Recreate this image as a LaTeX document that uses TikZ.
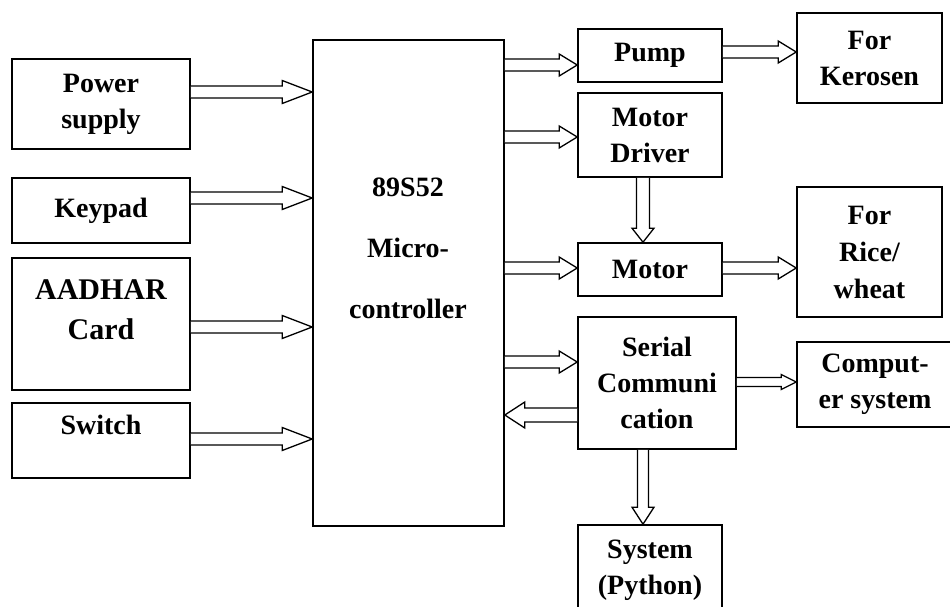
\documentclass[tikz,border=0pt]{standalone}
\usepackage{fontspec}
\setmainfont{Liberation Serif}
\usetikzlibrary{calc}
\newcommand\boxfont{\bfseries\fontsize{28}{36}\selectfont}
\newcommand\bigboxfont{\bfseries\fontsize{30}{40}\selectfont}
\newcommand\mcfont{\bfseries\fontsize{28}{61}\selectfont}
\tikzset{
  box/.style={draw, line width=1.6pt, inner sep=0pt, align=center, font=\boxfont},
  txt/.style={inner sep=0pt, align=center},
  arr/.style={draw, line width=1.3pt, fill=white, line join=miter},
}
% hollow block arrow: start, end, half shaft, half head, head length
\newcommand\harrow[5]{%
  \draw[arr] let \p1=(#1), \p2=(#2),
    \n1={atan2(\y2-\y1,\x2-\x1)}, \n2={veclen(\x2-\x1,\y2-\y1)} in
    [shift={(\p1)}, rotate=\n1]
    (0,#3) -- (\n2-#5,#3) -- (\n2-#5,#4) -- (\n2,0) -- (\n2-#5,-#4)
    -- (\n2-#5,-#3) -- (0,-#3);
}
\begin{document}
\begin{tikzpicture}[x=1pt,y=-1pt]
\useasboundingbox (0,0) rectangle (950,607);
% left column
\node[box, minimum width=178pt, minimum height=90pt] (pwr) at (101,104) {Power\\supply};
\node[box, minimum width=178pt, minimum height=65pt] (key) at (101,210.5) {Keypad};
\node[box, minimum width=178pt, minimum height=132pt] (aad) at (101,324) {};
\node[txt, font=\bigboxfont] (aadt) at (101,310) {AADHAR\\Card};
\node[box, minimum width=178pt, minimum height=75pt] (sw) at (101,440.5) {};
\node[txt, font=\boxfont] (swt) at (101,425) {Switch};
% microcontroller
\node[box, minimum width=191pt, minimum height=486pt] (mc) at (408.5,283) {};
\node[txt, font=\mcfont] (mct) at (408,248) {89S52\\Micro-\\controller};
% right column
\node[box, minimum width=144pt, minimum height=53pt] (pump) at (650,55.5) {Pump};
\node[box, minimum width=145pt, minimum height=90pt] (ker) at (869.5,58) {For\\Kerosen};
\node[box, minimum width=144pt, minimum height=84pt] (mdrv) at (650,135) {Motor\\Driver};
\node[box, minimum width=144pt, minimum height=53pt] (motor) at (650,269.5) {Motor};
\node[box, minimum width=145pt, minimum height=130pt, font=\bfseries\fontsize{28}{37}\selectfont] (rice) at (869.5,252) {For\\Rice/\\wheat};
\node[box, minimum width=158pt, minimum height=132pt] (ser) at (657,383) {Serial\\Communi\\cation};
\node[box, minimum width=156pt, minimum height=85pt] (comp) at (875,384.5) {Comput-\\er system};
\node[box, minimum width=144pt, minimum height=90pt] (sys) at (650,570) {System\\(Python)};
% arrow anchor points
\coordinate (a1) at ([yshift=12pt]pwr.east);
\coordinate (a2) at ([yshift=12.5pt]key.east);
\coordinate (a3) at ([yshift=-3pt]aad.east);
\coordinate (a4) at ([yshift=1.5pt]sw.east);
\coordinate (a5) at ([yshift=-9.5pt]pump.west);
\coordinate (a6) at ([yshift=-2pt]mdrv.west);
\coordinate (a7) at ([yshift=1.5pt]motor.west);
\coordinate (a8) at ([yshift=21pt]ser.west);
\coordinate (a9) at ([yshift=-32pt]ser.west);
\coordinate (a10) at ([yshift=3.5pt]pump.east);
\coordinate (a11) at ([yshift=1.5pt]motor.east);
\coordinate (a12) at ([yshift=1pt]ser.east);
\coordinate (a13) at ([xshift=-7pt]mdrv.south);
\coordinate (a14) at ([xshift=-14pt]ser.south);
% inputs
\harrow{a1}{mc.west |- a1}{6}{11.5}{30}
\harrow{a2}{mc.west |- a2}{6}{11.5}{30}
\harrow{a3}{mc.west |- a3}{6}{11.5}{30}
\harrow{a4}{mc.west |- a4}{6}{11.5}{30}
% outputs
\harrow{mc.east |- a5}{a5}{6}{11}{18}
\harrow{mc.east |- a6}{a6}{6}{11}{18}
\harrow{mc.east |- a7}{a7}{6}{11}{18}
\harrow{mc.east |- a8}{a8}{6}{11}{18}
\harrow{a9}{mc.east |- a9}{7}{13}{20}
\harrow{a10}{ker.west |- a10}{6}{11}{18}
\harrow{a11}{rice.west |- a11}{6}{11}{18}
\harrow{a12}{comp.west |- a12}{4.5}{7.5}{15}
\harrow{a13}{motor.north -| a13}{6.5}{11}{14}
\harrow{a14}{sys.north -| a14}{5.5}{11}{17}
\end{tikzpicture}
\end{document}
